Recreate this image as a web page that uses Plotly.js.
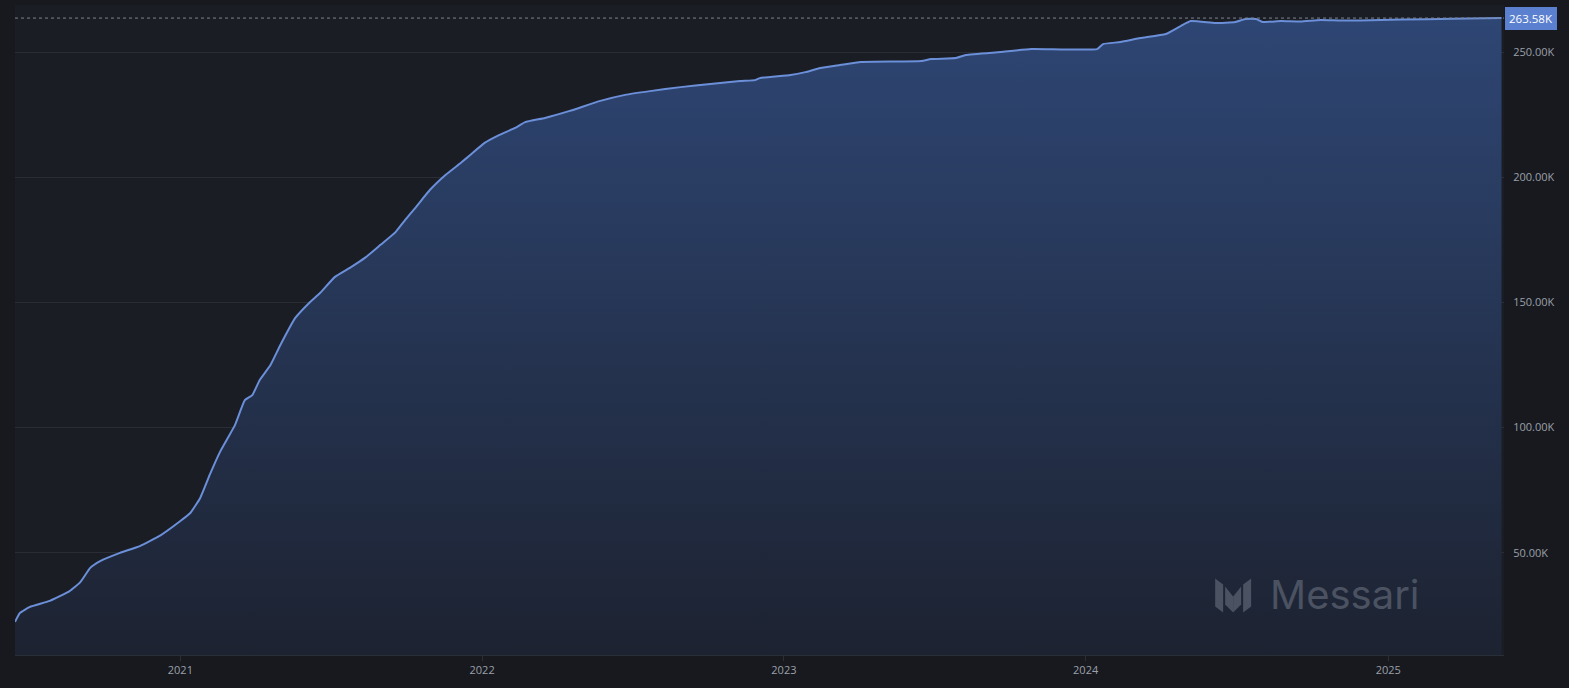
<!DOCTYPE html>
<html><head><meta charset="utf-8">
<script src="https://cdn.plot.ly/plotly-3.0.1.min.js"></script>
<style>html,body{margin:0;padding:0;background:#17191e;}#c{width:1569px;height:688px;}</style>
</head><body><div id="c"></div>
<script>
const dates = ["2020-06-15","2020-06-21","2020-07-03","2020-07-27","2020-08-20","2020-09-02","2020-09-14","2020-09-26","2020-10-20","2020-11-13","2020-12-08","2021-01-01","2021-01-13","2021-01-25","2021-02-06","2021-02-18","2021-03-08","2021-03-20","2021-03-29","2021-04-07","2021-04-20","2021-05-02","2021-05-20","2021-06-07","2021-06-19","2021-07-07","2021-07-25","2021-08-13","2021-08-31","2021-09-18","2021-09-30","2021-10-12","2021-10-30","2021-11-18","2021-12-06","2021-12-18","2022-01-04","2022-01-22","2022-02-10","2022-02-22","2022-03-18","2022-04-17","2022-05-24","2022-06-23","2022-07-23","2022-08-29","2022-10-04","2022-11-09","2022-11-27","2022-12-03","2023-01-09","2023-01-27","2023-02-14","2023-03-10","2023-04-04","2023-06-16","2023-06-28","2023-07-28","2023-08-09","2023-09-20","2023-10-27","2024-01-15","2024-01-22","2024-02-12","2024-03-07","2024-04-07","2024-04-25","2024-05-07","2024-06-06","2024-06-30","2024-07-12","2024-07-25","2024-08-02","2024-08-24","2024-09-17","2024-10-11","2024-11-04","2024-11-28","2024-12-23","2025-01-17","2025-03-19","2025-05-18"];
const values = [22400,26000,28400,30800,34700,38300,44000,46700,50000,52700,57000,62700,65900,71900,81500,90300,101000,111000,113000,119000,125000,133000,143800,150200,153800,160200,163800,168000,173000,178000,183000,187700,195000,201000,205700,209000,213700,216900,219700,222000,223700,226500,230500,232900,234400,236000,237200,238400,238800,239600,240800,242000,243600,244800,246000,246400,247200,247600,248800,250000,251200,251200,253200,254000,255600,257200,260400,262400,261600,262000,263200,263200,262000,262400,262200,262800,262600,262600,262800,263000,263300,263580];
const yTickVals = [50000,100000,150000,200000,250000];
const yTickText = ["50.00K","100.00K","150.00K","200.00K","250.00K"];
const xTickVals = ["2021-01-01","2022-01-01","2023-01-01","2024-01-01","2025-01-01"];
const xTickText = ["2021","2022","2023","2024","2025"];
const lastLabel = "263.58K";
const lastValue = 263580;

const logoSvg = '<svg xmlns="http://www.w3.org/2000/svg" width="40" height="40" viewBox="0 0 40 40"><g fill="#4b5261"><path d="M2 4 L10 10 L10 38 L2 32 Z"/><path d="M12 12 L20 22 L20 38 L12 30 Z"/><path d="M28 12 L20 22 L20 38 L28 30 Z"/><path d="M38 4 L30 10 L30 38 L38 32 Z"/></g></svg>';

const trace = {
  x: dates, y: values, type: 'scatter', mode: 'lines',
  line: {color: '#6b8fd9', width: 2, shape: 'spline', smoothing: 0.4},
  fill: 'tozeroy',
  fillgradient: {type: 'vertical', colorscale: [[0, 'rgba(28,33,46,1)'], [1, 'rgba(46,70,116,1)']]},
  hoverinfo: 'skip'
};

const layout = {
  width: 1569, height: 688,
  paper_bgcolor: '#17191e', plot_bgcolor: '#1a1d24',
  margin: {l: 15, r: 65, t: 5, b: 33},
  showlegend: false,
  font: {family: 'Open Sans, sans-serif', color: '#9ba0aa', size: 11},
  xaxis: {
    type: 'date', range: ['2020-06-15', '2025-05-21'],
    tickvals: xTickVals, ticktext: xTickText,
    showgrid: false, zeroline: false,
    showline: true, linecolor: '#2a2e37', linewidth: 1,
    ticks: 'outside', ticklen: 5, tickcolor: '#2a2e37',
    tickfont: {size: 11, color: '#9ba0aa'}
  },
  yaxis: {
    side: 'right', range: [9186, 268800],
    tickvals: yTickVals, ticktext: yTickText,
    showgrid: true, gridcolor: '#292d36', gridwidth: 1,
    zeroline: false, showline: false,
    ticks: 'outside', ticklen: 6, tickcolor: 'rgba(0,0,0,0)',
    tickfont: {size: 11, color: '#9ba0aa'}
  },
  shapes: [{
    type: 'line', xref: 'paper', x0: 0, x1: 1, yref: 'y', y0: lastValue, y1: lastValue,
    line: {color: '#7d838f', width: 1, dash: 'dot'}
  }],
  annotations: [
    {xref: 'paper', x: 1, xanchor: 'left', xshift: 1, yref: 'y', y: lastValue, yanchor: 'middle',
     text: lastLabel, showarrow: false, bgcolor: '#5b80cf', bordercolor: '#5b80cf', borderpad: 3,
     font: {color: '#ffffff', size: 11.5}},
    {xref: 'paper', x: 0.8415, xanchor: 'left', yref: 'paper', y: 0.093, yanchor: 'middle',
     text: 'Messari', showarrow: false, font: {family: 'Inter, Roboto, sans-serif', size: 40, color: '#4b5261'}}
  ],
  images: [{
    source: 'data:image/svg+xml;utf8,' + encodeURIComponent(logoSvg),
    xref: 'paper', yref: 'paper', x: 0.8046, y: 0.093, sizex: 0.027, sizey: 0.0615,
    xanchor: 'left', yanchor: 'middle', sizing: 'contain', layer: 'above'
  }]
};

Plotly.newPlot('c', [trace], layout, {displayModeBar: false, staticPlot: true});
</script></body></html>
